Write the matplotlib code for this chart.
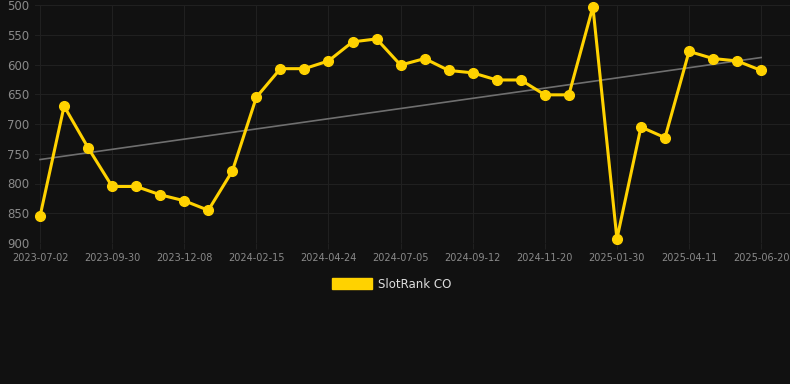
import matplotlib
matplotlib.use("Agg")
import matplotlib.pyplot as plt
import matplotlib.patches as mpatches
import numpy as np

# rank values, one point per snapshot (lower number = better rank)
ranks = [855, 670, 740, 805, 805, 819, 829, 845, 779, 655,
         607, 607, 594, 562, 557, 601, 590, 610, 614, 626,
         626, 651, 651, 503, 893, 705, 723, 578, 590, 594, 610]
tick_labels = ["2023-07-02", "2023-09-30", "2023-12-08", "2024-02-15",
               "2024-04-24", "2024-07-05", "2024-09-12", "2024-11-20",
               "2025-01-30", "2025-04-11", "2025-06-20"]
series_name = "SlotRank CO"

bg = "#111111"
yellow = "#ffd200"

x = np.arange(len(ranks))
fig = plt.figure(figsize=(7.9, 3.84), dpi=100, facecolor=bg)
ax = fig.add_axes([35 / 790, 1 - 243 / 384, 1 - 35 / 790, 238 / 384])
ax.set_facecolor(bg)

# linear trend
k, b = np.polyfit(x, ranks, 1)
ax.plot(x, k * x + b, color="#6f6f6f", lw=1.2, zorder=2)

ax.plot(x, ranks, color=yellow, lw=2.2, marker="o", ms=7, zorder=3, clip_on=False)

ax.set_ylim(900, 500)
ax.set_yticks([500, 550, 600, 650, 700, 750, 800, 850, 900])
ax.set_xlim(-0.21, 31.2)
ax.set_xticks(x[::3])
ax.set_xticklabels(tick_labels)

ax.grid(True, color="#202020", lw=0.8, zorder=0)
for s in ax.spines.values():
    s.set_visible(False)
ax.tick_params(axis="y", length=0, colors="#8a8a8a", labelsize=8.5, pad=4)
ax.tick_params(axis="x", length=4, color="#202020", colors="#8a8a8a", labelsize=7, pad=3)

patch = mpatches.Patch(color=yellow, label=series_name)
leg = fig.legend(handles=[patch], loc="center", bbox_to_anchor=(0.496, 1 - 284 / 384),
                 frameon=False, fontsize=8.5, handlelength=3.4, handleheight=0.95,
                 handletextpad=0.5)
for t in leg.get_texts():
    t.set_color("#dddddd")

fig.savefig("out.png", dpi=100, facecolor=bg)
